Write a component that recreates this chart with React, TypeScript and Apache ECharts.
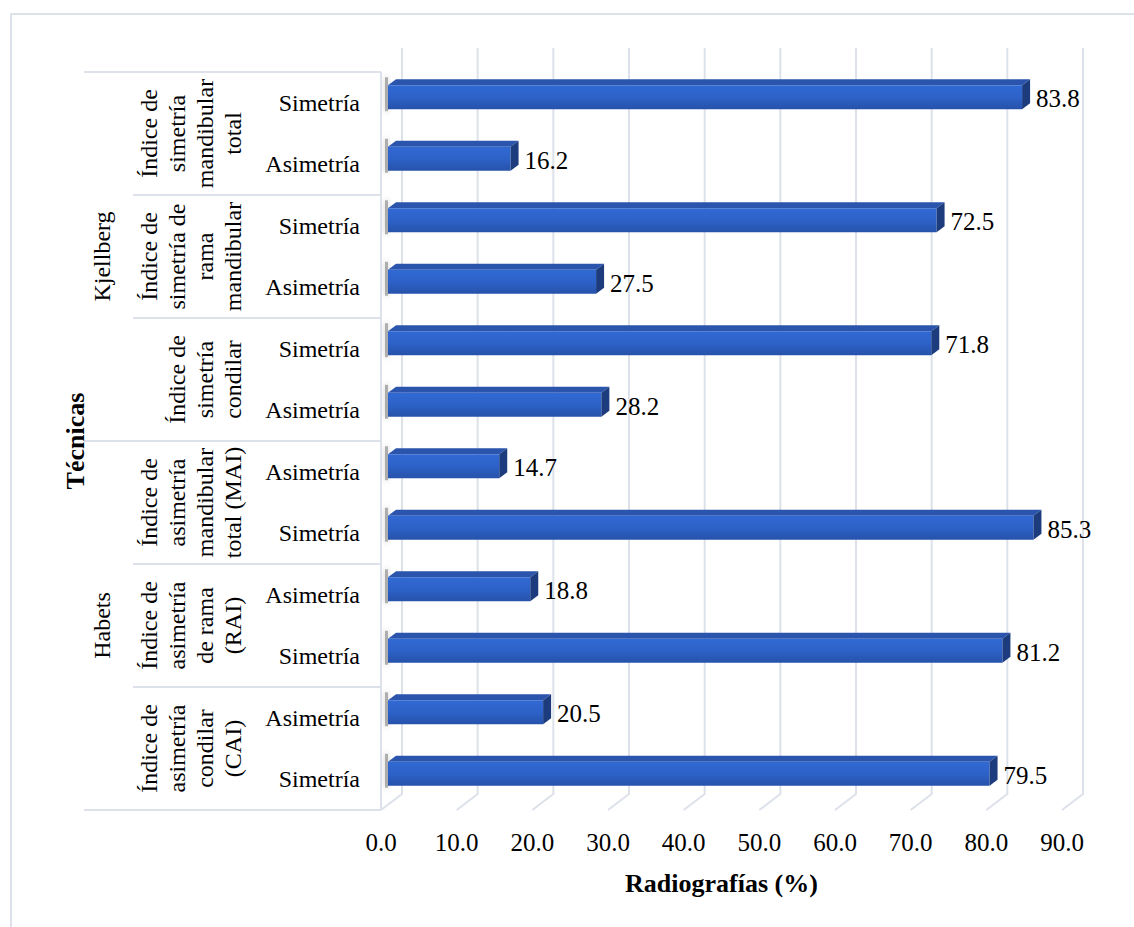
import React, { useEffect, useRef } from "react";
import * as echarts from "echarts";

const categories = [
  "Simetría", "Asimetría", "Simetría", "Asimetría", "Simetría", "Asimetría",
  "Asimetría", "Simetría", "Asimetría", "Simetría", "Asimetría", "Simetría",
];
const values = [83.8, 16.2, 72.5, 27.5, 71.8, 28.2, 14.7, 85.3, 18.8, 81.2, 20.5, 79.5];
const subgroups = [
  ["Índice de", "simetría", "mandibular", "total"],
  ["Índice de", "simetría de", "rama", "mandibular"],
  ["Índice de", "simetría", "condilar"],
  ["Índice de", "asimetría", "mandibular", "total (MAI)"],
  ["Índice de", "asimetría", "de rama", "(RAI)"],
  ["Índice de", "asimetría", "condilar", "(CAI)"],
];
const groups = ["Kjellberg", "Habets"];
const xTicks = [0, 10, 20, 30, 40, 50, 60, 70, 80, 90];
const xTitle = "Radiografías (%)";
const yTitle = "Técnicas";

const FONT = "'Liberation Serif', 'Times New Roman', serif";
const LINE = "#dde1e9";

// layout
const GRID_LEFT = 381;
const GRID_RIGHT = 72;
const GRID_TOP = 72;
const GRID_BOTTOM_Y = 810;
const ROW_H = (GRID_BOTTOM_Y - GRID_TOP) / categories.length;

export default function App() {
  const ref = useRef<HTMLDivElement>(null);
  useEffect(() => {
    document.body.style.margin = "0";
    const chart = echarts.init(ref.current!, null, { renderer: "svg" });

    const graphics: any[] = [];
    graphics.push({
      type: "rect",
      shape: { x: 11, y: 14, width: 1200, height: 1000 },
      style: { fill: "none", stroke: LINE, lineWidth: 2 },
      silent: true,
    });
    // table lines
    for (let k = 0; k <= categories.length; k += 2) {
      const y = GRID_TOP + k * ROW_H;
      const full = k % 6 === 0;
      graphics.push({
        type: "line",
        shape: { x1: full ? 84 : 133, y1: y, x2: GRID_LEFT, y2: y },
        style: { stroke: LINE, lineWidth: 2 },
        silent: true,
      });
    }
    subgroups.forEach((lines, i) => {
      graphics.push({
        type: "text",
        x: 247,
        y: GRID_TOP + (i * 2 + 1) * ROW_H,
        rotation: Math.PI / 2,
        style: {
          text: lines.join("\n"),
          align: "center",
          verticalAlign: "bottom",
          lineHeight: 28,
          fontSize: 24,
          fontFamily: FONT,
          fill: "#000",
        },
        silent: true,
      });
    });
    groups.forEach((g, i) => {
      graphics.push({
        type: "text",
        x: 102,
        y: GRID_TOP + (i * 6 + 3) * ROW_H,
        rotation: Math.PI / 2,
        style: {
          text: g,
          align: "center",
          verticalAlign: "middle",
          fontSize: 24,
          fontFamily: FONT,
          fill: "#000",
        },
        silent: true,
      });
    });
    graphics.push({
      type: "text",
      x: 75,
      y: (GRID_TOP + GRID_BOTTOM_Y) / 2,
      rotation: Math.PI / 2,
      style: {
        text: yTitle,
        align: "center",
        verticalAlign: "middle",
        fontSize: 26,
        fontWeight: "bold",
        fontFamily: FONT,
        fill: "#000",
      },
      silent: true,
    });

    const frontGrad = new echarts.graphic.LinearGradient(0, 0, 0, 1, [
      { offset: 0, color: "#3169d3" },
      { offset: 0.5, color: "#2d62c8" },
      { offset: 1, color: "#2652aa" },
    ]);

    chart.setOption({
      animation: false,
      textStyle: { fontFamily: FONT },
      grid: {
        left: GRID_LEFT,
        right: GRID_RIGHT,
        top: GRID_TOP,
        bottom: 927 - GRID_BOTTOM_Y,
        containLabel: false,
      },
      xAxis: {
        type: "value",
        min: 0,
        max: 90,
        interval: 10,
        axisLine: { show: false },
        axisTick: { show: false },
        splitLine: { show: false },
        axisLabel: {
          formatter: (v: number) => v.toFixed(1),
          color: "#000",
          fontSize: 25,
          fontFamily: FONT,
          margin: 20,
        },
        name: xTitle,
        nameLocation: "middle",
        nameGap: 60,
        nameTextStyle: {
          color: "#000",
          fontSize: 26,
          fontWeight: "bold",
          fontFamily: FONT,
        },
      },
      yAxis: {
        type: "category",
        inverse: true,
        data: categories,
        axisLine: { show: false },
        axisTick: { show: false },
        splitLine: { show: false },
        axisLabel: {
          interval: 0,
          color: "#000",
          fontSize: 24,
          fontFamily: FONT,
          margin: 21,
        },
      },
      graphic: graphics,
      series: [
        {
          type: "custom",
          z: 1,
          silent: true,
          encode: { x: 0, y: 1 },
          data: xTicks.map((t) => [t, 0]),
          renderItem: (params: any, api: any) => {
            const v = api.value(0);
            const x = api.coord([v, 0])[0];
            const cs = params.coordSys;
            const b = cs.y + cs.height;
            const children: any[] = [
              {
                type: "polyline",
                shape: { points: [[x, b], [x + 21, b - 16], [x + 21, 48]] },
                style: { stroke: LINE, lineWidth: 2, fill: "none" },
              },
            ];
            if (v === 0) {
              children.push({
                type: "line",
                shape: { x1: x, y1: cs.y, x2: x, y2: b },
                style: { stroke: LINE, lineWidth: 2, fill: "none" },
              });
            }
            return { type: "group", children };
          },
        },
        {
          type: "custom",
          z: 2,
          silent: true,
          encode: { x: 0, y: 1 },
          data: values.map((v, i) => [v, i]),
          renderItem: (params: any, api: any) => {
            const v = api.value(0);
            const idx = api.value(1);
            const p1 = api.coord([v, idx]);
            const p0 = api.coord([0, idx]);
            const fx0 = p0[0] + 7;
            const fx1 = p1[0] + 7;
            const top = p1[1] - 17.5;
            const h = 24;
            const bot = top + h;
            const dx = 8;
            const dy = -6;
            return {
              type: "group",
              children: [
                {
                  type: "rect",
                  shape: { x: fx0 - 3, y: top - 8, width: 3, height: h + 10 },
                  style: {
                    fill: "rgba(90,90,90,0.45)",
                    shadowBlur: 6,
                    shadowColor: "rgba(0,0,0,0.5)",
                  },
                },
                {
                  type: "polygon",
                  shape: {
                    points: [
                      [fx0, top],
                      [fx1, top],
                      [fx1 + dx, top + dy],
                      [fx0 + dx, top + dy],
                    ],
                  },
                  style: { fill: "#2b55ad" },
                },
                {
                  type: "rect",
                  shape: { x: fx0, y: top, width: fx1 - fx0, height: h },
                  style: { fill: frontGrad },
                },
                {
                  type: "polygon",
                  shape: {
                    points: [
                      [fx1, top],
                      [fx1 + dx, top + dy],
                      [fx1 + dx, bot + dy],
                      [fx1, bot],
                    ],
                  },
                  style: { fill: "#1d3c7e" },
                },
                {
                  type: "text",
                  style: {
                    text: v.toFixed(1),
                    x: fx1 + 14,
                    y: p1[1] - 4,
                    align: "left",
                    verticalAlign: "middle",
                    fontSize: 25,
                    fontFamily: FONT,
                    fill: "#000",
                  },
                },
              ],
            };
          },
        },
      ],
    });
    return () => chart.dispose();
  }, []);
  return <div ref={ref} style={{ width: 1134, height: 927 }} />;
}
